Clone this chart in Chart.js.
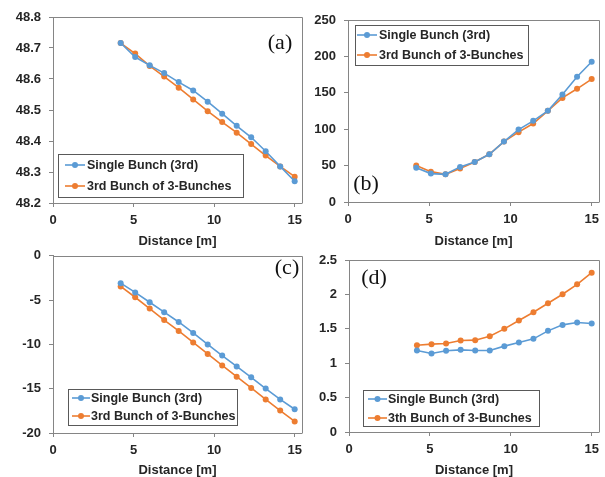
<!DOCTYPE html>
<html><head><meta charset="utf-8">
<script src="https://cdn.jsdelivr.net/npm/chart.js@4.4.1/dist/chart.umd.min.js"></script>
<style>
html,body{margin:0;padding:0;background:#fff;overflow:hidden;width:605px;height:477px}
canvas{position:absolute}
</style></head><body>
<canvas id="ca" width="308" height="252" style="left:0;top:0;width:308px;height:252px"></canvas>
<canvas id="cb" width="305" height="252" style="left:300px;top:0;width:305px;height:252px"></canvas>
<canvas id="cc" width="308" height="245" style="left:0;top:240px;width:308px;height:245px"></canvas>
<canvas id="cd" width="305" height="245" style="left:300px;top:240px;width:305px;height:245px"></canvas>
<script>
// ---- data ----
const distance = [4.2, 5.1, 6.0, 6.9, 7.8, 8.7, 9.6, 10.5, 11.4, 12.3, 13.2, 14.1, 15.0];
const xTicks = [0, 5, 10, 15];

const aSingle = [48.716, 48.671, 48.644, 48.619, 48.590, 48.563, 48.527, 48.488, 48.449, 48.412, 48.367, 48.318, 48.270];
const aThree  = [48.716, 48.682, 48.642, 48.608, 48.572, 48.534, 48.496, 48.461, 48.427, 48.390, 48.353, 48.318, 48.285];
const aTicks  = ["48.2", "48.3", "48.4", "48.5", "48.6", "48.7", "48.8"];

const bSingle = [47.2, 39, 38, 48.2, 55, 65.6, 83, 99.5, 111.5, 125.2, 147.7, 172, 192.7];
const bThree  = [50, 41.7, 38, 45.9, 55, 65.6, 83, 95.9, 107.8, 125.2, 143, 155.5, 168.8];
const bTicks  = ["0", "50", "100", "150", "200", "250"];

const cSingle = [-3.09, -4.13, -5.24, -6.36, -7.47, -8.70, -10.0, -11.26, -12.49, -13.72, -14.98, -16.21, -17.32];
const cThree  = [-3.46, -4.68, -5.95, -7.25, -8.48, -9.78, -11.08, -12.38, -13.64, -14.91, -16.21, -17.47, -18.70];
const cTicks  = ["-20", "-15", "-10", "-5", "0"];

const dSingle = [1.185, 1.141, 1.180, 1.194, 1.185, 1.185, 1.248, 1.301, 1.354, 1.470, 1.557, 1.591, 1.576];
const dThree  = [1.262, 1.277, 1.286, 1.330, 1.335, 1.393, 1.499, 1.620, 1.741, 1.872, 2.002, 2.147, 2.316];
const dTicks  = ["0", "0.5", "1", "1.5", "2", "2.5"];

const nameSingle = "Single Bunch (3rd)";
const nameThree = "3rd Bunch of 3-Bunches";
const nameThreeD = "3th Bunch of 3-Bunches";
const xTitle = "Distance [m]";

// ---- style ----
const BLUE = "#5B9BD5", ORANGE = "#ED7D31", AXIS = "#858585", TXT = "#262626";
const FONT = "'Liberation Sans', Arial, sans-serif";

const decor = {
  id: 'decor',
  afterDraw(chart, args, o) {
    const ctx = chart.ctx, a = chart.chartArea;
    ctx.save();
    // frame top/right
    ctx.strokeStyle = AXIS; ctx.lineWidth = 1;
    ctx.beginPath();
    ctx.moveTo(Math.round(a.left) + 0.5, Math.round(a.top) + 0.5);
    ctx.lineTo(Math.round(a.right) + 0.5, Math.round(a.top) + 0.5);
    ctx.lineTo(Math.round(a.right) + 0.5, Math.round(a.bottom) + 0.5);
    ctx.stroke();
    // legend
    const L = o.legend;
    ctx.fillStyle = "#fff";
    ctx.fillRect(L.x, L.y, L.w, L.h);
    ctx.strokeStyle = "#595959";
    ctx.strokeRect(L.x + 0.5, L.y + 0.5, L.w, L.h);
    chart.data.datasets.forEach((ds, i) => {
      const y = L.rows[i];
      ctx.strokeStyle = ds.borderColor; ctx.lineWidth = 1.6;
      ctx.beginPath(); ctx.moveTo(L.l0, y); ctx.lineTo(L.l1, y); ctx.stroke();
      ctx.fillStyle = ds.borderColor;
      ctx.beginPath(); ctx.arc((L.l0 + L.l1) / 2, y, 3, 0, Math.PI * 2); ctx.fill();
      ctx.fillStyle = TXT;
      ctx.font = "bold 12.5px " + FONT;
      ctx.textBaseline = "middle"; ctx.textAlign = "left";
      ctx.fillText(ds.label, L.tx, y + 0.5);
    });
    // panel label
    ctx.fillStyle = "#111";
    ctx.font = "22px 'Liberation Serif', 'Times New Roman', serif";
    ctx.textAlign = "center"; ctx.textBaseline = "middle";
    ctx.fillText(o.tag.text, o.tag.x, o.tag.y);
    ctx.restore();
  }
};

function makePanel(id, s1, s2, name2, yTicks, area, legend, tag, titlePad) {
  const cv = document.getElementById(id);
  const W = cv.width, H = cv.height;
  const yVals = yTicks.map(Number);
  const mk = (label, vals, color) => ({
    label, data: distance.map((x, i) => ({ x, y: vals[i] })),
    borderColor: color, backgroundColor: color, borderWidth: 1.6,
    pointRadius: 3, pointHoverRadius: 3, pointBorderWidth: 0, tension: 0
  });
  new Chart(cv, {
    type: 'line',
    data: { datasets: [mk(nameSingle, s1, BLUE), mk(name2, s2, ORANGE)] },
    options: {
      responsive: false, animation: false, devicePixelRatio: 1,
      layout: { padding: { left: 0, top: area.top, right: W - area.right, bottom: 0 } },
      plugins: { legend: { display: false }, tooltip: { enabled: false }, decor: { legend, tag } },
      scales: {
        x: {
          type: 'linear', min: 0, max: 15.45,
          afterBuildTicks: sc => { sc.ticks = xTicks.map(v => ({ value: v })); },
          afterFit: sc => { sc.height = H - area.bottom; },
          ticks: { autoSkip: false, maxRotation: 0, color: TXT, padding: 6,
                   font: { family: FONT, size: 13, weight: 'bold' }, callback: v => String(v) },
          grid: { display: true, drawOnChartArea: false, drawTicks: true, tickLength: 4, color: AXIS },
          border: { display: true, color: AXIS, width: 1 },
          title: { display: true, text: xTitle, color: TXT,
                   font: { family: FONT, size: 13, weight: 'bold' }, padding: { top: 0, bottom: titlePad } }
        },
        y: {
          type: 'linear', min: yVals[0], max: yVals[yVals.length - 1],
          afterBuildTicks: sc => { sc.ticks = yVals.map(v => ({ value: v })); },
          afterFit: sc => { sc.width = area.left; },
          ticks: { autoSkip: false, color: TXT, padding: 8,
                   font: { family: FONT, size: 13, weight: 'bold' }, callback: (v, i) => yTicks[i] },
          grid: { display: true, drawOnChartArea: false, drawTicks: true, tickLength: 4, color: AXIS },
          border: { display: true, color: AXIS, width: 1 }
        }
      }
    },
    plugins: [decor]
  });
}

makePanel('ca', aSingle, aThree, nameThree, aTicks,
  { left: 53, top: 17, right: 306, bottom: 203 },
  { x: 58, y: 154, w: 185, h: 43, rows: [165, 186], l0: 65, l1: 85, tx: 87 },
  { text: "(a)", x: 280, y: 43 }, 3);
makePanel('cb', bSingle, bThree, nameThree, bTicks,
  { left: 48, top: 20, right: 303, bottom: 202 },
  { x: 55, y: 25, w: 173, h: 40, rows: [35, 55], l0: 57, l1: 77, tx: 79 },
  { text: "(b)", x: 66, y: 184 }, 3);
makePanel('cc', cSingle, cThree, nameThree, cTicks,
  { left: 53, top: 14, right: 306, bottom: 193 },
  { x: 68, y: 149, w: 169, h: 36, rows: [158, 176], l0: 72, l1: 90, tx: 91 },
  { text: "(c)", x: 287, y: 28 }, 7);
makePanel('cd', dSingle, dThree, nameThreeD, dTicks,
  { left: 49, top: 20, right: 303, bottom: 192 },
  { x: 63, y: 150, w: 176, h: 36, rows: [159, 178], l0: 68, l1: 87, tx: 88 },
  { text: "(d)", x: 74, y: 38 }, 7);
</script>
</body></html>
